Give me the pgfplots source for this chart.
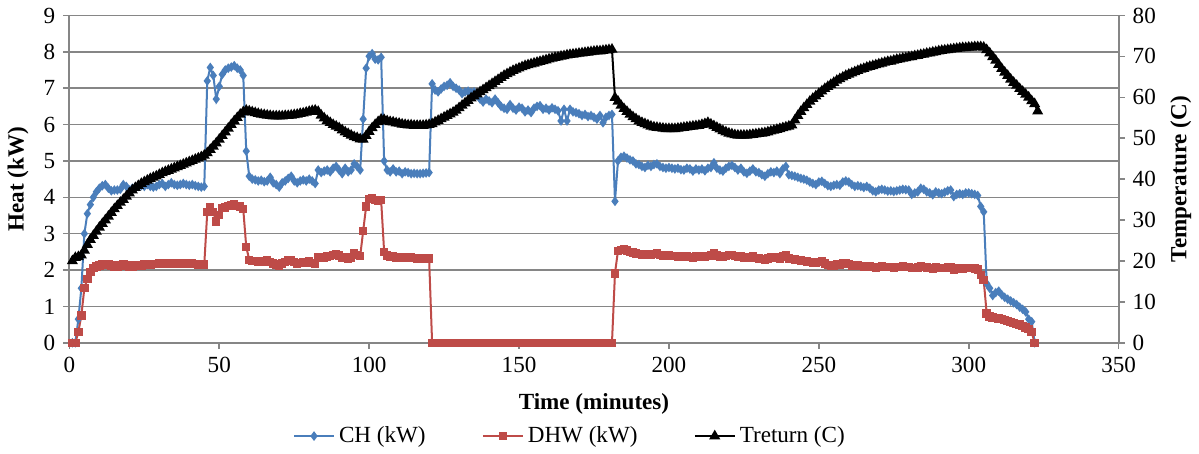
\documentclass[border=0pt]{standalone}
\usepackage{fontspec}
\setmainfont{Liberation Serif}
\usepackage{pgfplots}
\usepackage{pgfplotstable}
\pgfplotsset{compat=1.18}
\definecolor{chblue}{HTML}{4A7EBB}
\definecolor{dhwred}{HTML}{BE4B48}
\definecolor{gridgray}{HTML}{868686}

% t = time (min), ch/dhw = heat (kW), tr = return temperature (C)
\pgfplotstableread{
t ch dhw tr
1 0 0 20.0
2 0 0 20.8
3 0.65 0.3 21.0
4 1.5 0.75 21.4
5 3.0 1.5 22.6
6 3.55 1.75 24.0
7 3.8 1.95 25.2
8 4.0 2.05 26.2
9 4.15 2.1 27.2
10 4.25 2.13 28.2
11 4.32 2.15 29.1
12 4.35 2.17 30.0
13 4.25 2.15 30.9
14 4.18 2.12 31.8
15 4.2 2.1 32.7
16 4.2 2.1 33.5
17 4.22 2.12 34.3
18 4.35 2.15 35.0
19 4.3 2.12 35.8
20 4.2 2.08 36.6
21 4.25 2.1 37.3
22 4.28 2.12 37.9
23 4.3 2.13 38.4
24 4.32 2.12 38.9
25 4.3 2.15 39.3
26 4.35 2.14 39.7
27 4.3 2.15 40.1
28 4.28 2.16 40.4
29 4.3 2.17 40.7
30 4.35 2.18 41.1
31 4.38 2.17 41.5
32 4.3 2.16 41.8
33 4.35 2.18 42.1
34 4.4 2.2 42.4
35 4.35 2.18 42.7
36 4.33 2.17 43.0
37 4.35 2.18 43.3
38 4.38 2.19 43.6
39 4.35 2.18 43.9
40 4.33 2.17 44.2
41 4.35 2.18 44.5
42 4.32 2.16 44.8
43 4.3 2.15 45.1
44 4.28 2.14 45.4
45 4.3 2.15 45.8
46 7.2 3.6 46.4
47 7.57 3.72 47.2
48 7.35 3.6 48.0
49 6.7 3.33 48.8
50 7.05 3.52 49.7
51 7.38 3.7 50.6
52 7.5 3.72 51.5
53 7.55 3.76 52.4
54 7.58 3.78 53.3
55 7.62 3.8 54.2
56 7.55 3.76 55.0
57 7.5 3.75 55.8
58 7.35 3.68 56.4
59 5.27 2.64 56.8
60 4.58 2.28 56.6
61 4.5 2.25 56.4
62 4.48 2.25 56.2
63 4.45 2.23 56.0
64 4.47 2.22 55.8
65 4.43 2.24 55.7
66 4.45 2.27 55.6
67 4.55 2.22 55.5
68 4.4 2.18 55.4
69 4.35 2.15 55.4
70 4.28 2.13 55.4
71 4.4 2.18 55.4
72 4.45 2.22 55.5
73 4.52 2.26 55.5
74 4.58 2.28 55.6
75 4.45 2.22 55.7
76 4.4 2.18 55.8
77 4.45 2.2 56.0
78 4.48 2.22 56.1
79 4.45 2.2 56.3
80 4.5 2.23 56.5
81 4.45 2.2 56.7
82 4.38 2.18 56.8
83 4.75 2.36 56.5
84 4.68 2.34 55.6
85 4.72 2.35 54.9
86 4.75 2.37 54.3
87 4.7 2.38 53.8
88 4.8 2.42 53.3
89 4.85 2.43 52.9
90 4.75 2.4 52.5
91 4.65 2.33 52.0
92 4.8 2.36 51.5
93 4.7 2.32 51.1
94 4.75 2.35 50.7
95 4.92 2.46 50.3
96 4.85 2.42 50.1
97 4.75 2.38 49.8
98 6.15 3.07 49.7
99 7.55 3.75 50.6
100 7.88 3.95 51.6
101 7.95 3.98 52.5
102 7.8 3.93 53.3
103 7.78 3.9 54.0
104 7.85 3.92 54.6
105 5.0 2.5 54.5
106 4.75 2.4 54.2
107 4.7 2.36 54.0
108 4.78 2.38 53.9
109 4.7 2.35 53.7
110 4.72 2.36 53.6
111 4.65 2.34 53.4
112 4.7 2.35 53.3
113 4.68 2.33 53.2
114 4.65 2.34 53.2
115 4.66 2.33 53.1
116 4.65 2.32 53.1
117 4.65 2.32 53.1
118 4.66 2.31 53.1
119 4.67 2.32 53.2
120 4.68 2.32 53.3
121 7.12 0 53.5
122 6.95 0 53.9
123 6.9 0 54.3
124 6.98 0 54.7
125 7.05 0 55.1
126 7.08 0 55.5
127 7.15 0 55.9
128 7.05 0 56.3
129 7.0 0 56.8
130 6.95 0 57.4
131 6.85 0 58.0
132 6.9 0 58.6
133 6.92 0 59.2
134 6.88 0 59.8
135 6.9 0 60.3
136 6.8 0 60.8
137 6.7 0 61.3
138 6.62 0 61.8
139 6.7 0 62.3
140 6.65 0 62.8
141 6.6 0 63.3
142 6.7 0 63.8
143 6.6 0 64.3
144 6.5 0 64.8
145 6.45 0 65.3
146 6.42 0 65.7
147 6.55 0 66.1
148 6.45 0 66.5
149 6.4 0 66.8
150 6.48 0 67.1
151 6.45 0 67.4
152 6.35 0 67.7
153 6.4 0 67.9
154 6.33 0 68.1
155 6.45 0 68.3
156 6.5 0 68.5
157 6.52 0 68.7
158 6.42 0 68.9
159 6.45 0 69.1
160 6.4 0 69.3
161 6.46 0 69.5
162 6.42 0 69.7
163 6.38 0 69.8
164 6.1 0 70.0
165 6.42 0 70.1
166 6.1 0 70.3
167 6.42 0 70.4
168 6.35 0 70.5
169 6.33 0 70.6
170 6.3 0 70.7
171 6.25 0 70.8
172 6.28 0 70.9
173 6.22 0 71.0
174 6.25 0 71.1
175 6.2 0 71.2
176 6.15 0 71.3
177 6.25 0 71.3
178 6.05 0 71.4
179 6.2 0 71.5
180 6.25 0 71.6
181 6.28 0 71.7
182 3.89 1.91 59.9
183 5.0 2.53 59.0
184 5.1 2.55 58.0
185 5.13 2.56 57.2
186 5.08 2.54 56.5
187 5.03 2.5 55.8
188 5.0 2.48 55.2
189 4.92 2.46 54.7
190 4.9 2.44 54.2
191 4.85 2.42 53.8
192 4.82 2.43 53.5
193 4.88 2.41 53.2
194 4.85 2.43 52.9
195 4.9 2.44 52.7
196 4.92 2.45 52.6
197 4.85 2.42 52.5
198 4.82 2.4 52.4
199 4.8 2.39 52.3
200 4.82 2.4 52.3
201 4.8 2.38 52.3
202 4.78 2.38 52.3
203 4.8 2.37 52.4
204 4.76 2.37 52.5
205 4.75 2.36 52.6
206 4.8 2.37 52.7
207 4.78 2.36 52.8
208 4.72 2.35 52.9
209 4.78 2.37 53.0
210 4.75 2.36 53.1
211 4.78 2.38 53.3
212 4.73 2.36 53.5
213 4.8 2.38 53.8
214 4.82 2.4 53.4
215 4.95 2.45 53.0
216 4.8 2.4 52.6
217 4.75 2.37 52.2
218 4.72 2.36 51.8
219 4.8 2.38 51.5
220 4.85 2.41 51.2
221 4.88 2.42 51.0
222 4.82 2.38 50.8
223 4.75 2.36 50.7
224 4.8 2.38 50.7
225 4.7 2.34 50.7
226 4.66 2.33 50.7
227 4.72 2.35 50.8
228 4.78 2.37 50.9
229 4.7 2.33 51.0
230 4.68 2.32 51.1
231 4.62 2.3 51.2
232 4.58 2.29 51.3
233 4.65 2.32 51.5
234 4.7 2.34 51.7
235 4.68 2.33 51.9
236 4.72 2.35 52.1
237 4.65 2.32 52.3
238 4.78 2.37 52.5
239 4.85 2.41 52.7
240 4.62 2.32 52.9
241 4.6 2.3 53.2
242 4.58 2.29 54.4
243 4.55 2.27 55.5
244 4.52 2.26 56.5
245 4.5 2.25 57.4
246 4.47 2.24 58.2
247 4.42 2.22 59.0
248 4.38 2.21 59.7
249 4.35 2.2 60.3
250 4.42 2.22 60.9
251 4.44 2.23 61.5
252 4.38 2.18 62.1
253 4.32 2.14 62.6
254 4.3 2.12 63.1
255 4.33 2.13 63.6
256 4.35 2.15 64.1
257 4.33 2.14 64.5
258 4.42 2.18 64.9
259 4.45 2.2 65.3
260 4.42 2.16 65.6
261 4.35 2.13 65.9
262 4.3 2.12 66.2
263 4.32 2.12 66.5
264 4.3 2.11 66.8
265 4.27 2.1 67.0
266 4.3 2.11 67.3
267 4.25 2.1 67.5
268 4.18 2.08 67.7
269 4.15 2.07 67.9
270 4.2 2.09 68.1
271 4.22 2.1 68.3
272 4.2 2.09 68.5
273 4.17 2.08 68.7
274 4.18 2.08 68.8
275 4.16 2.07 69.0
276 4.18 2.08 69.2
277 4.2 2.09 69.3
278 4.22 2.1 69.5
279 4.21 2.09 69.6
280 4.2 2.09 69.8
281 4.08 2.05 69.9
282 4.12 2.06 70.1
283 4.15 2.07 70.2
284 4.25 2.1 70.4
285 4.22 2.09 70.5
286 4.15 2.07 70.7
287 4.12 2.06 70.8
288 4.07 2.04 71.0
289 4.15 2.07 71.1
290 4.12 2.06 71.3
291 4.1 2.05 71.4
292 4.14 2.06 71.5
293 4.18 2.07 71.6
294 4.2 2.08 71.7
295 4.02 2.02 71.8
296 4.08 2.04 71.9
297 4.1 2.05 72.0
298 4.08 2.04 72.1
299 4.12 2.05 72.1
300 4.12 2.06 72.2
301 4.1 2.05 72.2
302 4.08 2.04 72.3
303 4.05 2.02 72.3
304 3.75 1.86 72.3
305 3.6 1.72 72.2
306 1.63 0.8 71.6
307 1.5 0.72 70.8
308 1.3 0.7 69.9
309 1.38 0.68 69.0
310 1.42 0.67 68.0
311 1.32 0.65 67.0
312 1.25 0.62 66.1
313 1.2 0.6 65.3
314 1.15 0.57 64.4
315 1.1 0.54 63.6
316 1.05 0.52 62.9
317 0.98 0.5 62.1
318 0.92 0.46 61.4
319 0.85 0.42 60.7
320 0.65 0.38 60.0
321 0.58 0.29 59.1
322 0 0 58.4
323 nan nan 56.6
}\data

\begin{document}
\fontsize{11.5}{13.8}\selectfont
\begin{tikzpicture}
\pgfplotsset{
  base/.style={
    width=522.5pt, height=163pt, scale only axis,
    xmin=0, xmax=350, clip=false,
    /pgf/number format/assume math mode=true,
    tick align=outside, major tick length=3pt,
    tick style={gridgray, line width=0.8pt},
    axis line style={gridgray, line width=0.9pt, -},
    label style={font=\bfseries},
    legend image code/.code={
      \draw[mark repeat=2, mark phase=2]
        plot coordinates {(0cm,0cm) (0.35cm,0cm) (0.7cm,0cm)};
    },
  },
  chstyle/.style={chblue, line width=1pt, mark=diamond*, mark size=1.6pt, mark options={solid}},
  dhwstyle/.style={dhwred, line width=1pt, mark=square*, mark size=1.6pt, mark options={solid}},
  trstyle/.style={black, line width=1pt, mark=triangle*, mark size=2.2pt, mark options={solid}},
}
\begin{axis}[base,
  axis x line*=bottom, axis y line*=left,
  ymin=0, ymax=9, ytick={0,1,...,9},
  xtick={0,50,...,350},
  ymajorgrids, grid style={gridgray, line width=0.8pt},
  xlabel={Time (minutes)}, ylabel={Heat (kW)},
  xlabel style={at={(axis description cs:0.5,-0.187)}, anchor=center},
  ylabel style={at={(axis description cs:-0.0488,0.5)}, anchor=center},
]
\addplot[chstyle] table[x=t, y=ch] {\data};
\addplot[dhwstyle] table[x=t, y=dhw] {\data};
\end{axis}
\begin{axis}[base,
  axis x line=none, axis y line*=right,
  ymin=0, ymax=80, ytick={0,10,...,80},
  ylabel={Temperature (C)},
  ylabel style={at={(axis description cs:1.0593,0.5)}, anchor=center},
  legend style={at={(0.478,-0.285)}, anchor=center, draw=none, fill=none,
    legend columns=-1, font=\fontsize{11.5}{13.8}\selectfont,
    /tikz/every even column/.append style={column sep=26pt}},
]
\addlegendimage{chstyle}
\addlegendentry{CH (kW)}
\addlegendimage{dhwstyle}
\addlegendentry{DHW (kW)}
\addplot[trstyle] table[x=t, y=tr] {\data};
\addlegendentry{Treturn (C)}
\end{axis}
\end{tikzpicture}
\end{document}
